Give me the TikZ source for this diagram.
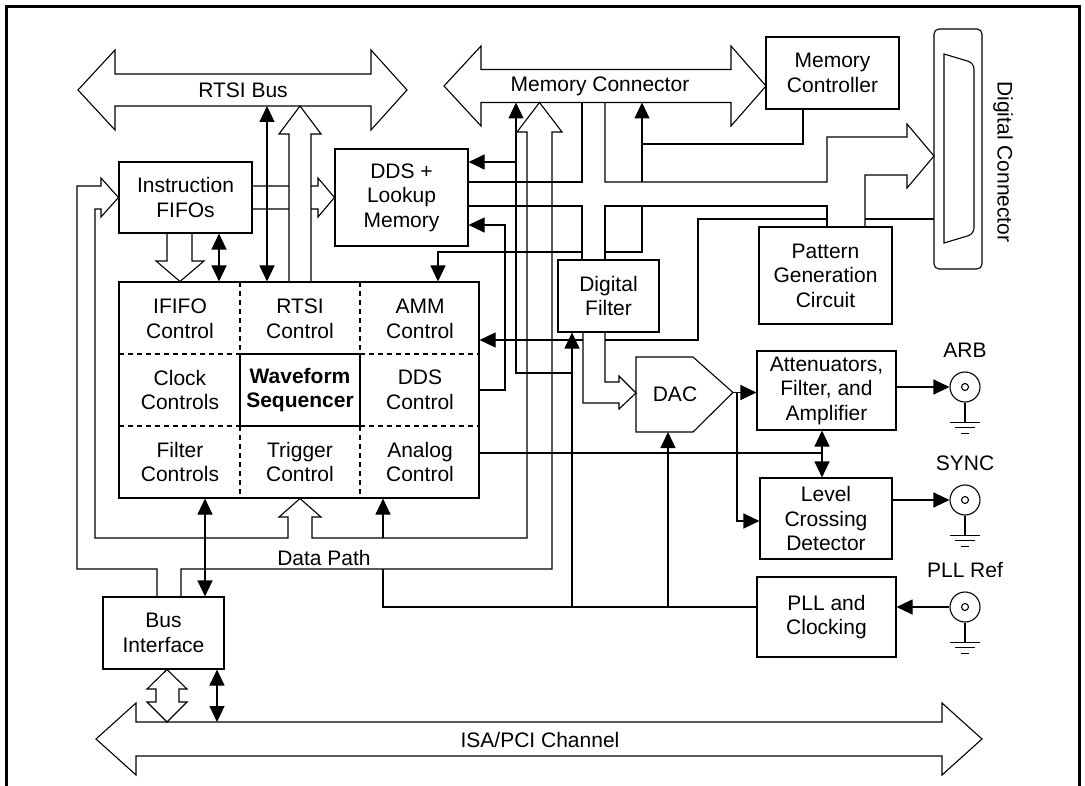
\documentclass[tikz,border=0pt]{standalone}
\usepackage{fontspec}
\setmainfont{Liberation Sans}
\usetikzlibrary{arrows.meta}

\tikzset{every picture/.style={line width=1.1pt}}

\begin{document}
\begin{tikzpicture}[x=1pt,y=1pt,yscale=-1,xscale=1,
  >={Triangle[length=16pt,width=15pt]},
  every node/.style={font=\fontsize{21}{24.5}\selectfont},
  blk/.style={draw,align=center,inner sep=0pt},
  lbl/.style={align=center,inner sep=0pt},
  coax/.style={draw,circle,minimum size=30pt,inner sep=0pt},
  dsh/.style={dash pattern=on 5pt off 4pt}]
\useasboundingbox (0,0) rectangle (1085,786);

%Frame
\draw[line width=3pt] (6.5,786) -- (6.5,6.5) -- (1079.5,6.5) -- (1079.5,786);

%Shape: RTSI Bus
\draw (78,90) -- (115,50) -- (115,74) -- (371,74) -- (371,50) -- (407,90) -- (371,130) -- (371,106) -- (115,106) -- (115,130) -- cycle;
% Text Node
\node[lbl] (rtsibus) at (243,90) {RTSI Bus};

%Shape: Memory Connector
\draw (444,86) -- (481,46) -- (481,69.5) -- (731,69.5) -- (731,46) -- (766,86) -- (731,126) -- (731,102.5) -- (481,102.5) -- (481,126) -- cycle;
% Text Node
\node[lbl] (memcon) at (600,86) {Memory Connector};

%Shape: ISA/PCI Channel
\draw (96,739) -- (136,703) -- (136,722) -- (942,722) -- (942,703) -- (982,739) -- (942,775) -- (942,756) -- (136,756) -- (136,775) -- cycle;
% Text Node
\node[lbl] (isa) at (540,740) {ISA/PCI Channel};

%Shape: Digital Connector
\draw[rounded corners=5] (934,29) rectangle (982,269);
\draw (944,54) {[rounded corners=6] -- (974,63) -- (974,234)} -- (944,243) -- cycle;
% Text Node
\node[lbl,rotate=-90] (digcon) at (1003,162) {Digital Connector};

%Boxes
\node[blk,minimum width=133,minimum height=72] (memctl) at (832.5,73) {Memory\\Controller};
\node[blk,minimum width=133,minimum height=71] (fifo) at (185.5,197.5) {Instruction\\FIFOs};
\node[blk,minimum width=133,minimum height=97] (dds) at (401.5,197.5) {DDS +\\Lookup\\Memory};
\node[blk,minimum width=133,minimum height=97] (pgc) at (825.5,275.5) {Pattern\\Generation\\Circuit};
\node[blk,minimum width=101,minimum height=72] (dfilt) at (608.5,296) {Digital\\Filter};
\node[blk,minimum width=139,minimum height=79] (atten) at (826.5,390.5) {Attenuators,\\Filter, and\\Amplifier};
\node[blk,minimum width=132,minimum height=81] (lcd) at (826,518.5) {Level\\Crossing\\Detector};
\node[blk,minimum width=139,minimum height=80] (pll) at (826.5,617) {PLL and\\Clocking};
\node[blk,minimum width=121,minimum height=72] (busif) at (163.5,633) {Bus\\Interface};

%Shape: control block
\node[draw,minimum width=360,minimum height=216,inner sep=0pt] (ctrl) at (299,390) {};
\draw[dsh] (240,282) -- (240,354) (240,426) -- (240,498) (360,282) -- (360,354) (360,426) -- (360,498);
\draw[dsh] (119,354) -- (240,354) (360,354) -- (479,354) (119,426) -- (240,426) (360,426) -- (479,426);
\node[blk,minimum width=120,minimum height=72] (wfs) at (300,390) {\textbf{Waveform}\\\textbf{Sequencer}};
% Text Node
\node[lbl] (ififo) at (180,319) {IFIFO\\Control};
\node[lbl] (rtsic) at (300,319) {RTSI\\Control};
\node[lbl] (ammc) at (420,319) {AMM\\Control};
\node[lbl] (clkc) at (180,390) {Clock\\Controls};
\node[lbl] (ddsc) at (420,390) {DDS\\Control};
\node[lbl] (filtc) at (180,462) {Filter\\Controls};
\node[lbl] (trigc) at (300,462) {Trigger\\Control};
\node[lbl] (anac) at (420,462) {Analog\\Control};

%Shape: DAC
\draw (636,357) -- (693,357) -- (733,392.5) -- (693,432) -- (636,432) -- cycle;
\node[lbl] (dac) at (675,394) {DAC};

%Coax connectors
\node[coax] (arb) at (965,387) {};
\node[coax] (sync) at (965,500) {};
\node[coax] (pllref) at (965,607) {};
\foreach \c/\t in {arb/ARB,sync/SYNC,pllref/PLL Ref}{
  \draw (\c) circle[radius=3.5];
  \draw (\c.south) -- ++(0,20) ++(-15,0) -- ++(30,0) ++(-25,5) -- ++(20,0) ++(-14,6) -- ++(8,0);
  \node[lbl,above=29pt] at (\c) {\t};
}

%Data Path bus
\draw (157,0 |- busif.north) -- (157,569) -- (77,569) -- (77,186) -- (101,186) -- (101,178) -- (fifo.west) -- (101,217) -- (101,209) -- (95,209) -- (95,538) -- (288,538) -- (288,517) -- (279,517) -- (300,0 |- ctrl.south) -- (321,517) -- (312,517) -- (312,538) -- (527,538) -- (527,132) -- (517,132) -- (539.5,102.5) -- (562,132) -- (552,132) -- (552,569) -- (181,569) -- (181,0 |- busif.north);
% Text Node
\node[lbl] (dpath) at (324,558) {Data Path};

%Hollow arrows
\draw (167,0 |- fifo.south) -- (167,261) -- (156,261) -- (180,0 |- ctrl.north) -- (204,261) -- (192,261) -- (192,0 |- fifo.south);
\draw (289,0 |- ctrl.north) -- (289,134) -- (279,134) -- (300,106) -- (321,134) -- (311,134) -- (311,0 |- ctrl.north);
\draw (fifo.east |- 0,186) -- (289,186) (311,186) -- (318,186) -- (318,178) -- (dds.west) -- (318,217) -- (318,209) -- (311,209) (289,209) -- (fifo.east |- 0,209);
\draw (156,689) -- (147,689) -- (167,0 |- busif.south) -- (187,689) -- (179,689) -- (179,702) -- (187,702) -- (167,722) -- (147,702) -- (156,702) -- cycle;

%DDS bus junction
\draw (dds.east |- 0,182) -- (582,182) -- (582,102.5);
\draw (605,102.5) -- (605,182) -- (827,182) -- (827,137) -- (907,137) -- (907,124) -- (934,156) -- (907,188) -- (907,175) -- (865,175) -- (865,0 |- pgc.north);
\draw (dds.east |- 0,206) -- (582,206) -- (582,0 |- dfilt.north);
\draw (605,0 |- dfilt.north) -- (605,206) -- (827,206) -- (827,0 |- pgc.north);
\draw (865,219) -- (934,219);

%Filter to DAC bus
\draw (583,0 |- dfilt.south) -- (583,403) -- (619,403) -- (619,409) -- (636,393) -- (619,376) -- (619,382) -- (605,382) -- (605,0 |- dfilt.south);

%Straight Lines
\draw[<->] (219,0 |- fifo.south) -- (219,0 |- ctrl.north);
\draw[<->] (267,106) -- (267,0 |- ctrl.north);
\draw[<->] (205,0 |- ctrl.south) -- (205,0 |- busif.north);
\draw[<->] (217,0 |- busif.south) -- (217,722);
\draw[<->] (822,0 |- atten.south) -- (822,0 |- lcd.north);

%Clock lines
\draw (pll.west |- 0,607) -- (383,607) -- (383,569);
\draw[->] (383,538) -- (383,0 |- ctrl.south);
\draw[->] (572,607) -- (572,0 |- dfilt.south);
\draw[->] (668,607) -- (668,432);
\draw (572,373) -- (516,373) -- (516,162);
\draw[->] (516,162) -- (516,102.5);
\draw[->] (516,162) -- (dds.east |- 0,162);

%Control lines
\draw[->] (ctrl.east |- 0,390) -- (505,390) -- (505,225) -- (dds.east |- 0,225);
\draw (827,219) -- (698,219) -- (698,340) -- (605,340);
\draw[->] (583,340) -- (ctrl.east |- 0,340);
\draw (803,0 |- memctl.south) -- (803,144) -- (642,144) -- (642,182);
\draw[->] (642,144) -- (642,102.5);
\draw (642,206) -- (642,252) -- (605,252);
\draw[->] (582,252) -- (438,252) -- (438,0 |- ctrl.north);
\draw (ctrl.east |- 0,453) -- (822,453);

%Analog outputs
\draw[->] (733,392.5) -- (atten.west |- 0,392.5);
\draw[->] (737,392.5) -- (737,521) -- (lcd.west |- 0,521);
\draw[->] (atten.east |- arb) -- (arb.west);
\draw[->] (lcd.east |- sync) -- (sync.west);
\draw[->] (pllref.west) -- (pll.east |- pllref);

\end{tikzpicture}
\end{document}
